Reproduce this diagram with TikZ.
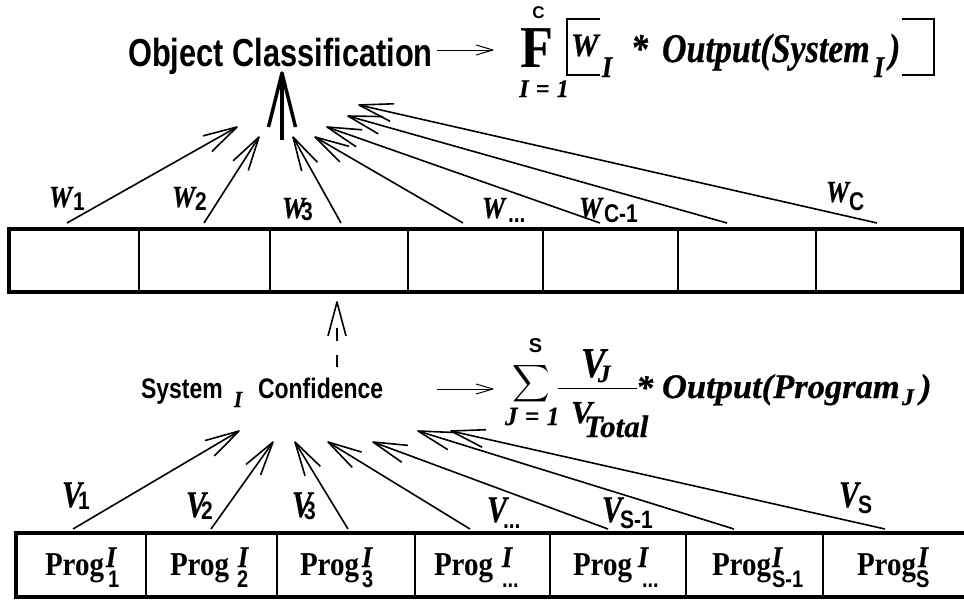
\documentclass[tikz,border=0pt]{standalone}
\usepackage{fontspec}
\setmainfont{Liberation Serif}
\setsansfont{Liberation Sans}
\usepackage{graphicx}
\usetikzlibrary{arrows.meta,fit}

% open "V" arrow head made of two straight barbs
\pgfdeclarearrow{
  name = OpenVee,
  parameters = {\the\pgfarrowlength,\the\pgfarrowwidth},
  setup code = {
    \pgfarrowssettipend{0pt}
    \pgfarrowssetlineend{-0.5\pgflinewidth}
    \pgfarrowsupperhullpoint{-\pgfarrowlength}{.5\pgfarrowwidth}
    \pgfarrowsupperhullpoint{0pt}{0pt}
    \pgfarrowssavethe\pgfarrowlength
    \pgfarrowssavethe\pgfarrowwidth
  },
  drawing code = {
    \pgfsetdash{}{0pt}
    \pgfsetroundjoin
    \pgfpathmoveto{\pgfqpoint{-\pgfarrowlength}{.5\pgfarrowwidth}}
    \pgfpathlineto{\pgfpointorigin}
    \pgfpathlineto{\pgfqpoint{-\pgfarrowlength}{-.5\pgfarrowwidth}}
    \pgfusepathqstroke
  },
  defaults = {length = 34pt, width = 18pt}
}

\newcommand\fs[1]{\fontsize{#1}{#1}\selectfont}
\newcommand\vst[2]{\scalebox{1}[#1]{#2}}
\newcommand\ellip{...}

\tikzset{
  outerframe/.style={draw, line width=4pt},
  cell/.style={draw, line width=1.8pt, inner sep=0pt},
  wire/.style={line width=1.6pt, -{OpenVee[length=34pt,width=18pt]}},
  bigwire/.style={line width=3.5pt, -{OpenVee[length=54pt,width=27pt]}},
  dashwire/.style={line width=1.6pt, dash pattern=on 12pt off 14pt on 13pt off 60pt,
                   -{OpenVee[length=34pt,width=18pt]}},
  thinwire/.style={line width=1pt, -{OpenVee[length=17pt,width=10pt]}},
  bracket/.style={line width=2pt},
  sanslab/.style={inner sep=0pt, outer sep=0pt, font=\sffamily\bfseries},
  serifbi/.style={inner sep=0pt, outer sep=0pt,
                  font=\rmfamily\bfseries\itshape\addfontfeature{FakeBold=0.6}},
  serifb/.style={inner sep=0pt, outer sep=0pt, font=\rmfamily\bfseries},
}

\begin{document}
\begin{tikzpicture}[x=1pt,y=-1pt]
\fill[white] (0,0) rectangle (964,600);
\useasboundingbox (0,0) rectangle (964,600);

% ---------- upper row: system cells ----------
\foreach \i/\a/\b in {1/10/139, 2/139/270, 3/270/408, 4/408/543,
                      5/543/678, 6/678/816, 7/816/961}
  \node[cell, fit={(\a,230) (\b,291)}] (t\i) {};
\draw[outerframe] (t1.north west) rectangle (t7.south east);

% ---------- lower row: program cells ----------
\foreach \i/\a/\b in {1/17/146, 2/146/277, 3/277/415, 4/415/550,
                      5/550/686, 6/686/823, 7/823/968}
  \node[cell, fit={(\a,534) (\b,596)}] (b\i) {};
\draw[outerframe] (b1.north west) rectangle (b7.south east);

% program labels
\foreach \i/\px/\ix/\sx/\s in {1/45/106/108/1, 2/170/238/237/2, 3/300/362/362/3,
                               4/434/502/502/\ellip, 5/573/638/642/\ellip,
                               6/712/772/772/S-1, 7/857/918/916/S} {
  \node[serifb, anchor=base west] (pg\i) at (\px,575) {\vst{1.15}{\fs{29}Prog}};
  \node[serifbi, anchor=base west] (pi\i) at (\ix,567) {\vst{1.15}{\fs{26}I}};
  \node[sanslab, anchor=base west] (ps\i) at (\sx,587) {\vst{1.2}{\fs{20}\s}};
}

% ---------- title and its formula ----------
\node[sanslab, anchor=base] (oc) at (280.5,66) {\vst{1.27}{\fs{30.8}Object Classification}};

\node[sanslab, anchor=base] (fC) at (538.5,18.5) {\fs{17}C};
\node[serifb, anchor=base] (fF) at (536.5,67) {\vst{1.1}{\fs{54}F}};
\node[serifbi, anchor=base] (fI) at (544,97) {\vst{1.05}{\fs{24}I\hspace{0.3em}=\hspace{0.3em}1}};
\draw[bracket] (600,19) -- (567,19) -- (567,75) -- (600,75);
\draw[bracket] (902,19) -- (934,19) -- (934,75) -- (902,75);
\node[serifbi, anchor=base west] (fW) at (571,56) {\vst{1.05}{\fs{31}W}};
\node[serifbi, anchor=base west] (fWi) at (602,77) {\vst{1.15}{\fs{26}I}};
\node[serifbi, anchor=base west] (fst) at (631,62) {\vst{1.2}{\fs{34}*}};
\node[serifbi, anchor=base west] (fout) at (662,62) {\vst{1.2}{\fs{34}Output(System}};
\node[serifbi, anchor=base west] (fsi) at (874,77) {\vst{1.15}{\fs{26}I}};
\node[serifbi, anchor=base west] (fpar) at (889,62) {\vst{1.2}{\fs{34})}};

\coordinate (ocR) at (437,50);
\coordinate (fL) at (493,50);
\draw[thinwire] (ocR) -- (fL);

% ---------- system confidence and its formula ----------
\node[sanslab, anchor=base west] (sys) at (141,398) {\vst{1.23}{\fs{23}System}};
\node[serifbi, anchor=base west] (sysI) at (234,407) {\vst{1.1}{\fs{21}I}};
\node[sanslab, anchor=base west] (conf) at (258,398) {\vst{1.23}{\fs{23}Confidence}};

\node[sanslab, anchor=base] (gS) at (535.5,352) {\fs{20}S};
\node[anchor=center, inner sep=0pt] (gsum) at (531.5,384) {\scalebox{2.6}[2.6]{$\displaystyle\sum$}};
\node[serifbi, anchor=base west] (gJ) at (505,425) {\vst{1.05}{\fs{25}J\hspace{0.3em}=\hspace{0.3em}1}};
\draw[line width=1pt] (558,388) -- (637,388);
\node[serifbi, anchor=base west] (gV) at (581,377) {\vst{1.15}{\fs{37}V}};
\node[serifbi, anchor=base west] (gVj) at (598,382) {\fs{25}J};
\node[serifbi, anchor=base west] (gD) at (571,423) {\fs{32}V};
\node[serifbi, anchor=base west] (gT) at (584,437) {\fs{31}Total};
\node[serifbi, anchor=base west] (gst) at (636,399) {\fs{34.5}*};
\node[serifbi, anchor=base west] (gout) at (662,398) {\fs{34.5}Output(Program};
\node[serifbi, anchor=base west] (gsj) at (902,405) {\fs{24}J};
\node[serifbi, anchor=base west] (gpar) at (920,398) {\fs{34.5})};

\coordinate (confR) at (437,389);
\coordinate (gL) at (493,389);
\draw[thinwire] (confR) -- (gL);

% ---------- weights W ----------
\foreach \n/\wx/\wy/\sx/\sy/\s in {1/49/207/73/210/1, 2/172/207/195/210/2,
        3/282/218/301/220/3, 4/482/218/508/222/\ellip, 5/579/218/604/222/C-1,
        6/826/202/849/210/C} {
  \node[serifbi, anchor=base west] (wl\n) at (\wx,\wy) {\vst{1.18}{\fs{26}W}};
  \node[sanslab, anchor=base west] (ws\n) at (\sx,\sy) {\vst{1.22}{\fs{21}\s}};
}

% ---------- weights V ----------
\foreach \n/\vx/\vy/\sx/\sy/\s in {1/62/507/78/509/1, 2/186/517/201/519/2,
        3/292/517/304/519/3, 4/487/522/503/528/\ellip, 5/602/522/620/528/S-1,
        6/839/507/858/513/S} {
  \node[serifbi, anchor=base west] (vl\n) at (\vx,\vy) {\vst{1.25}{\fs{30}V}};
  \node[sanslab, anchor=base west] (vs\n) at (\sx,\sy) {\vst{1.2}{\fs{21}\s}};
}

% ---------- connectors: systems -> classification ----------
\foreach \n/\sx/\tx/\ty in {1/67/237/127, 2/204/259/137, 3/341/293/137,
        4/463/315/137, 5/600/327/127, 6/727/348/116, 7/877/359/105} {
  \coordinate (wfoot\n) at (\sx,223);
  \coordinate (whead\n) at (\tx,\ty);
  \draw[wire] (wfoot\n) -- (whead\n);
}
\coordinate (ocfoot) at (282,140);
\coordinate (octip) at (282,73);
\draw[bigwire] (ocfoot) -- (octip);

% ---------- connectors: programs -> system confidence ----------
\foreach \n/\sx/\tx/\ty in {1/73/239/431, 2/211/273/442, 3/348/295/442,
        4/470/328/442, 5/608/373/442, 6/734/418/431, 7/885/451/431} {
  \coordinate (vfoot\n) at (\sx,529);
  \coordinate (vhead\n) at (\tx,\ty);
  \draw[wire] (vfoot\n) -- (vhead\n);
}

% confidence feeds system cell
\coordinate (cfUp) at (337,367);
\coordinate (cfTip) at (337,302);
\draw[dashwire] (cfUp) -- (cfTip);

\end{tikzpicture}
\end{document}
